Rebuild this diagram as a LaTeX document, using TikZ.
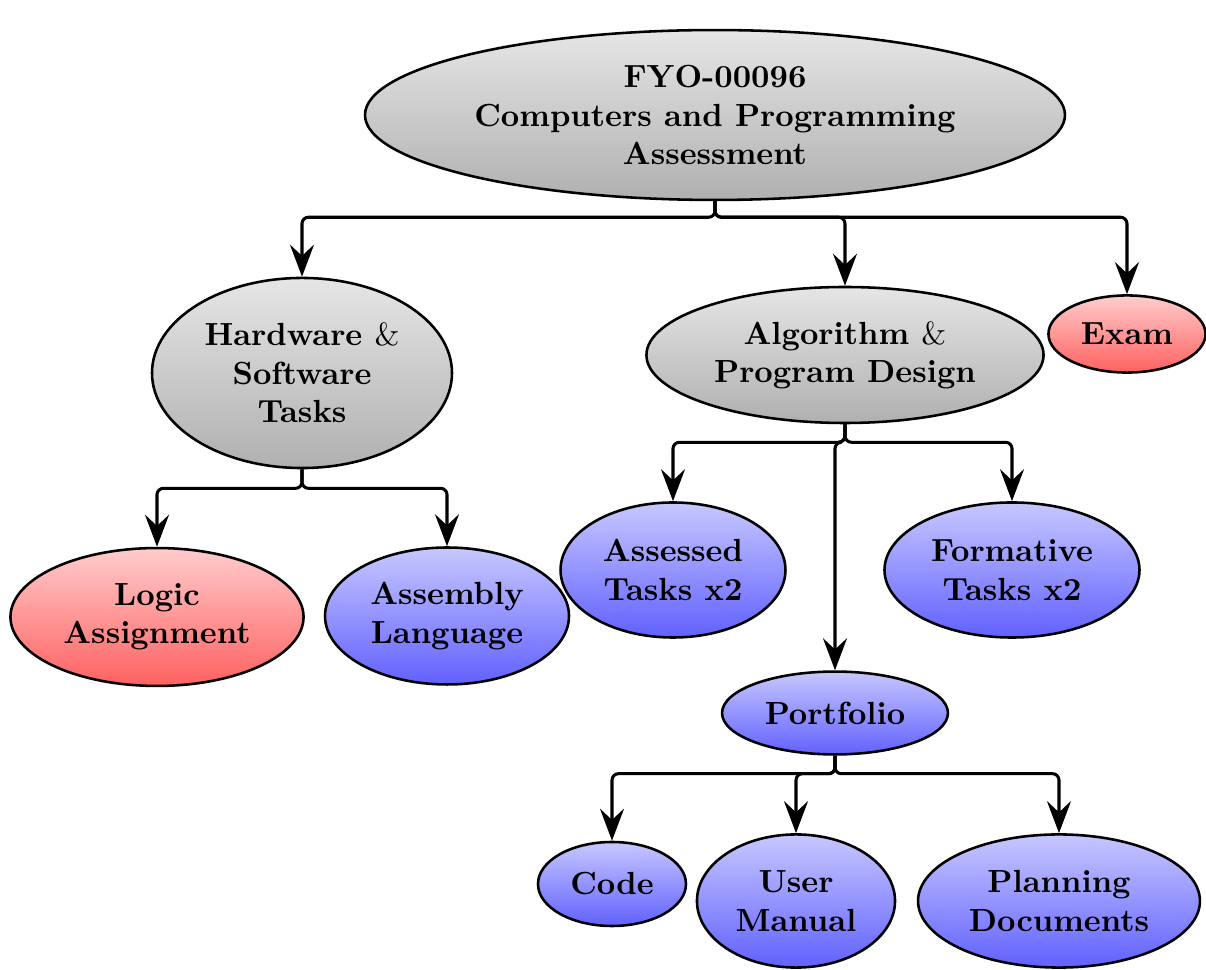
\documentclass[tikz,border=0pt]{standalone}
\usetikzlibrary{arrows.meta,shapes.geometric}
\begin{document}
\begin{tikzpicture}[x=0.3125pt,y=-0.3125pt,
  box/.style={ellipse,draw=black,line width=0.8pt,inner sep=0pt,align=center,font=\bfseries},
  greybox/.style={box,top color=gray!20,bottom color=gray!62},
  redbox/.style={box,top color=red!20,bottom color=red!62},
  bluebox/.style={box,top color=blue!22,bottom color=blue!62},
  conn/.style={line width=0.95pt,rounded corners=2pt,-{Stealth[length=10pt,width=7.5pt,inset=3.5pt]}}]
\useasboundingbox (0,0) rectangle (1206,970);
\node[greybox,minimum width=218.75pt,minimum height=53.1pt] (root) at (715,115) {FYO-00096\\Computers and Programming\\Assessment};
\node[greybox,minimum width=93.75pt,minimum height=59.4pt] (hw) at (302,373) {Hardware {\mdseries\&}\\Software\\Tasks};
\node[greybox,minimum width=124.1pt,minimum height=42.5pt] (alg) at (845,355) {Algorithm {\mdseries\&}\\Program Design};
\node[redbox,minimum width=49.1pt,minimum height=24.1pt] (exam) at (1127,334) {Exam};
\node[redbox,minimum width=91.6pt,minimum height=43.1pt] (logic) at (157,617) {Logic\\Assignment};
\node[bluebox,minimum width=76.25pt,minimum height=42.8pt] (asm) at (447,616) {Assembly\\Language};
\node[bluebox,minimum width=70.3pt,minimum height=42.2pt] (ass) at (673,570) {Assessed\\Tasks x2};
\node[bluebox,minimum width=79.7pt,minimum height=42.2pt] (form) at (1012,570) {Formative\\Tasks x2};
\node[bluebox,minimum width=70.6pt,minimum height=25.9pt] (port) at (835,713) {Portfolio};
\node[bluebox,minimum width=46.25pt,minimum height=26.25pt] (code) at (612,884) {Code};
\node[bluebox,minimum width=61.9pt,minimum height=41.6pt] (user) at (796,901) {User\\Manual};
\node[bluebox,minimum width=88.1pt,minimum height=41.6pt] (plan) at (1059,901) {Planning\\Documents};

\draw[conn] (root.south) -- ++(0,16) -| (hw.north);
\draw[conn] (root.south) -- ++(0,16) -| (alg.north);
\draw[conn] (root.south) -- ++(0,16) -| (exam.north);
\draw[conn] (hw.south) -- ++(0,19) -| (logic.north);
\draw[conn] (hw.south) -- ++(0,19) -| (asm.north);
\draw[conn] (alg.south) -- ++(0,18) -| (ass.north);
\draw[conn] (alg.south) -- ++(0,18) -| (form.north);
\draw[conn] (alg.south) -- ++(0,18) -| (port.north);
\draw[conn] (port.south) -- ++(0,18) -| (code.north);
\draw[conn] (port.south) -- ++(0,18) -| (user.north);
\draw[conn] (port.south) -- ++(0,18) -| (plan.north);
\end{tikzpicture}
\end{document}
